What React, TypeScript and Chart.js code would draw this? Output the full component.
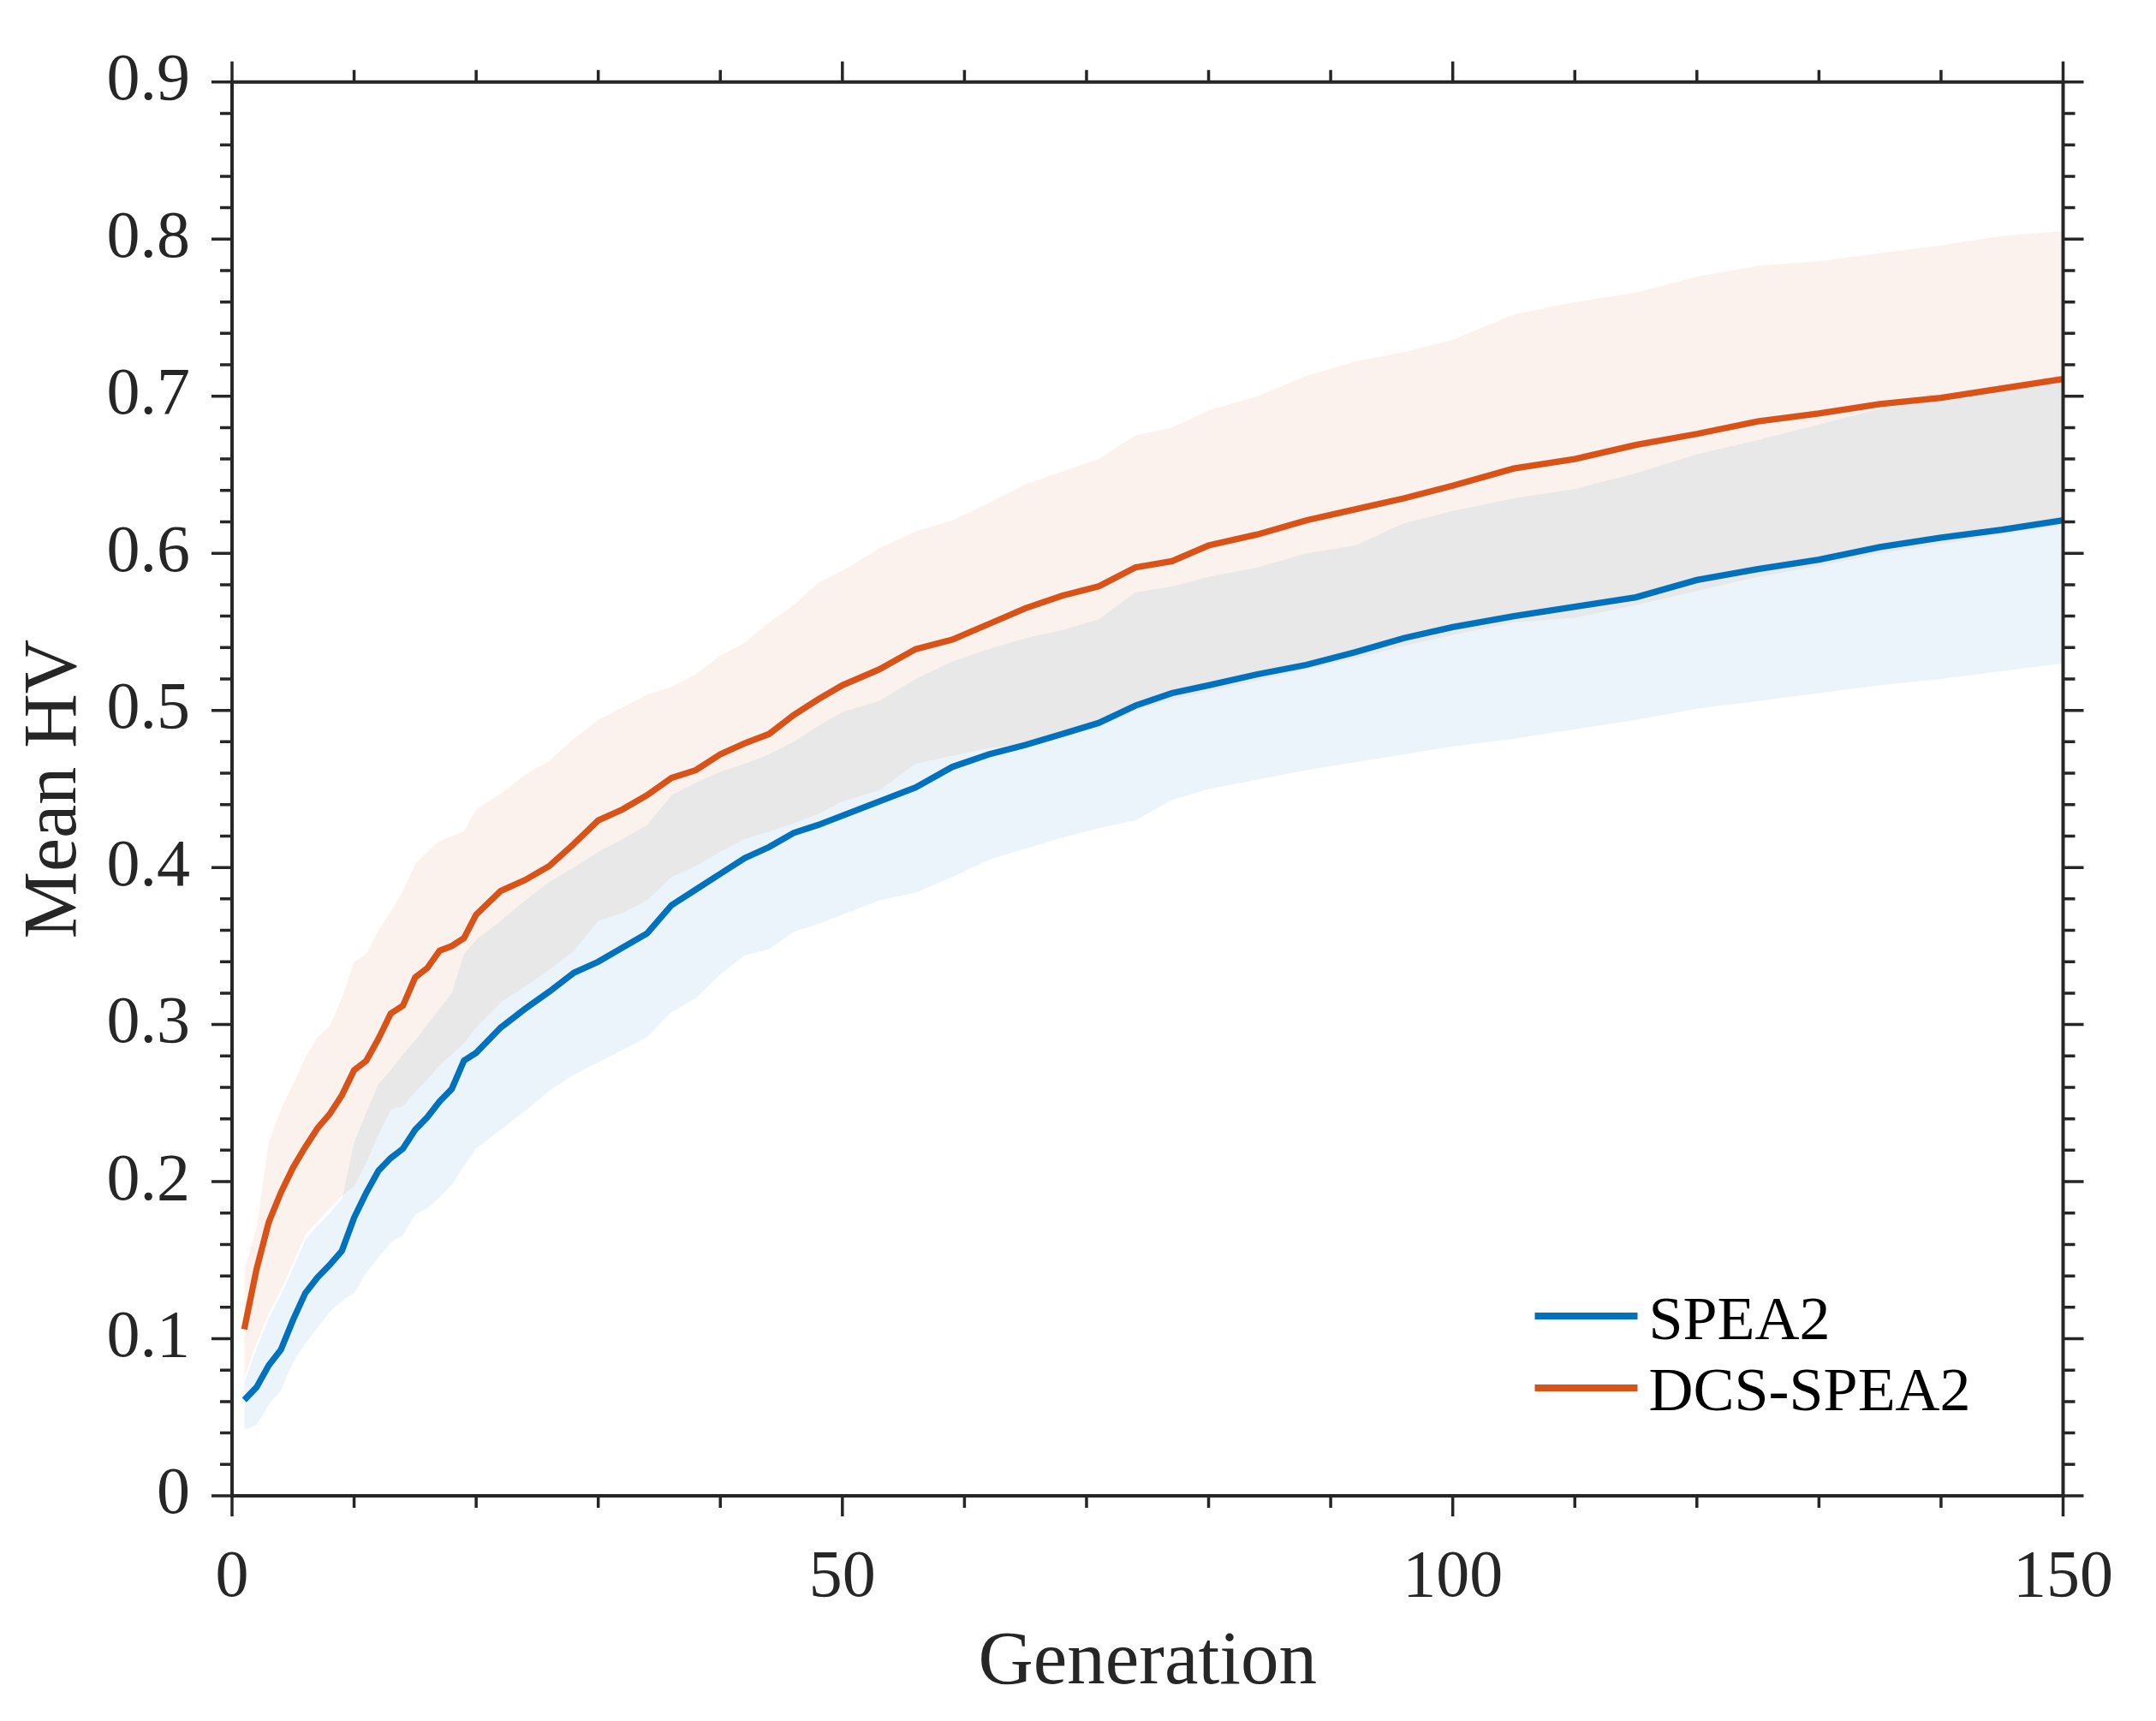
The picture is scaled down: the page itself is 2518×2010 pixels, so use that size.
import React, { useEffect, useRef } from 'react';
import { Chart, registerables } from 'chart.js';

Chart.register(...registerables);

// Generation numbers at which values were read
const generations = [
  1, 2, 3, 4, 5, 6, 7, 8, 9, 10, 11, 12, 13, 14, 15, 16, 17, 18, 19, 20,
  22, 24, 26, 28, 30, 32, 34, 36, 38, 40, 42, 44, 46, 48, 50,
  53, 56, 59, 62, 65, 68, 71, 74, 77, 80, 84, 88, 92, 96, 100,
  105, 110, 115, 120, 125, 130, 135, 140, 145, 150,
];

// SPEA2 mean HV
const spea2Mean = [
  0.061, 0.069, 0.083, 0.093, 0.112, 0.129, 0.139, 0.147, 0.156, 0.177,
  0.193, 0.207, 0.215, 0.221, 0.233, 0.241, 0.251, 0.259, 0.277, 0.282,
  0.298, 0.310, 0.321, 0.333, 0.340, 0.349, 0.358, 0.376, 0.386, 0.396,
  0.406, 0.413, 0.422, 0.427, 0.433,
  0.442, 0.451, 0.464, 0.472, 0.478, 0.485, 0.492, 0.503, 0.511, 0.516,
  0.523, 0.529, 0.537, 0.546, 0.553,
  0.560, 0.566, 0.572, 0.583, 0.590, 0.596, 0.604, 0.610, 0.615, 0.621,
];

// SPEA2 band
const spea2Upper = [
  0.072, 0.094, 0.113, 0.128, 0.145, 0.163, 0.172, 0.180, 0.189, 0.225,
  0.244, 0.262, 0.271, 0.281, 0.290, 0.300, 0.310, 0.320, 0.345, 0.354,
  0.366, 0.379, 0.391, 0.400, 0.410, 0.418, 0.427, 0.446, 0.454, 0.461,
  0.466, 0.472, 0.480, 0.490, 0.499,
  0.506, 0.520, 0.531, 0.539, 0.546, 0.551, 0.558, 0.575, 0.579, 0.585,
  0.591, 0.600, 0.605, 0.619, 0.627,
  0.635, 0.641, 0.651, 0.663, 0.672, 0.682, 0.692, 0.698, 0.705, 0.709,
];
const spea2Lower = [
  0.042, 0.045, 0.058, 0.067, 0.085, 0.097, 0.107, 0.117, 0.124, 0.129,
  0.142, 0.152, 0.161, 0.166, 0.179, 0.183, 0.190, 0.198, 0.210, 0.221,
  0.233, 0.245, 0.258, 0.268, 0.276, 0.284, 0.292, 0.308, 0.317, 0.332,
  0.344, 0.348, 0.359, 0.364, 0.370,
  0.379, 0.384, 0.394, 0.405, 0.412, 0.419, 0.425, 0.430, 0.443, 0.450,
  0.456, 0.462, 0.467, 0.472, 0.477,
  0.482, 0.488, 0.494, 0.501, 0.506, 0.511, 0.516, 0.520, 0.525, 0.530,
];

// DCS-SPEA2 mean HV
const dcsMean = [
  0.106, 0.144, 0.174, 0.193, 0.209, 0.222, 0.234, 0.243, 0.255, 0.271,
  0.277, 0.291, 0.307, 0.312, 0.330, 0.336, 0.347, 0.350, 0.355, 0.370,
  0.385, 0.392, 0.401, 0.415, 0.430, 0.437, 0.446, 0.457, 0.462, 0.472,
  0.479, 0.485, 0.497, 0.507, 0.516,
  0.526, 0.539, 0.545, 0.555, 0.565, 0.573, 0.579, 0.591, 0.595, 0.605,
  0.612, 0.621, 0.628, 0.635, 0.643,
  0.654, 0.660, 0.669, 0.676, 0.684, 0.689, 0.695, 0.699, 0.705, 0.711,
];

// DCS-SPEA2 band
const dcsUpper = [
  0.144, 0.170, 0.225, 0.246, 0.262, 0.279, 0.292, 0.299, 0.317, 0.340,
  0.345, 0.360, 0.372, 0.385, 0.402, 0.410, 0.417, 0.420, 0.423, 0.437,
  0.447, 0.459, 0.468, 0.482, 0.494, 0.502, 0.510, 0.515, 0.523, 0.535,
  0.543, 0.556, 0.567, 0.581, 0.589,
  0.603, 0.614, 0.621, 0.632, 0.644, 0.652, 0.660, 0.675, 0.680, 0.691,
  0.700, 0.713, 0.722, 0.728, 0.736,
  0.752, 0.760, 0.766, 0.776, 0.783, 0.786, 0.791, 0.796, 0.802, 0.805,
];
const dcsLower = [
  0.075, 0.097, 0.116, 0.131, 0.148, 0.166, 0.175, 0.183, 0.191, 0.197,
  0.212, 0.230, 0.246, 0.248, 0.257, 0.265, 0.274, 0.281, 0.288, 0.298,
  0.314, 0.324, 0.335, 0.347, 0.366, 0.371, 0.379, 0.394, 0.401, 0.410,
  0.418, 0.423, 0.428, 0.434, 0.442,
  0.449, 0.466, 0.471, 0.476, 0.479, 0.483, 0.489, 0.500, 0.507, 0.512,
  0.519, 0.526, 0.533, 0.541, 0.548,
  0.556, 0.559, 0.567, 0.576, 0.585, 0.592, 0.600, 0.606, 0.612, 0.618,
];

const seriesNames = ['SPEA2', 'DCS-SPEA2'];
const xTicks = [0, 50, 100, 150];

const W = 2518;
const H = 2010;
const BLUE = '#0072BD';
const ORANGE = '#D95319';
const AXIS = '#262626';
const FONT = "'Liberation Serif', 'Times New Roman', serif";

export default function App() {
  const ref = useRef<HTMLCanvasElement | null>(null);

  useEffect(() => {
    document.body.style.margin = '0';
    document.body.style.overflow = 'hidden';
    const canvas = ref.current;
    if (!canvas) return;

    const pts = (arr: number[]) => generations.map((g, i) => ({ x: g, y: arr[i] }));

    const axesPlugin = {
      id: 'matlabAxes',
      afterDraw(chart: any) {
        const { ctx, chartArea: a, scales } = chart;
        const xs = scales.x;
        const ys = scales.y;
        ctx.save();
        ctx.strokeStyle = AXIS;
        ctx.lineCap = 'butt';
        ctx.lineWidth = 3.5;
        ctx.beginPath();
        for (let i = 0; i <= 45; i++) {
          const py = ys.getPixelForValue(i * 0.02);
          const L = i % 5 === 0 ? 24 : 14;
          ctx.moveTo(a.left, py);
          ctx.lineTo(a.left - L, py);
          ctx.moveTo(a.right, py);
          ctx.lineTo(a.right + L, py);
        }
        for (let g = 0; g <= 150; g += 10) {
          const px = xs.getPixelForValue(g);
          const L = g % 50 === 0 ? 24 : 14;
          ctx.moveTo(px, a.bottom);
          ctx.lineTo(px, a.bottom + L);
          ctx.moveTo(px, a.top);
          ctx.lineTo(px, a.top - L);
        }
        ctx.stroke();
        ctx.lineWidth = 4;
        ctx.strokeRect(a.left, a.top, a.right - a.left, a.bottom - a.top);

        // legend (inside, lower right)
        const colors = [BLUE, ORANGE];
        const lineY = [a.bottom - 210, a.bottom - 126];
        const baseY = [a.bottom - 183, a.bottom - 100];
        ctx.lineWidth = 8;
        ctx.font = `72px ${FONT}`;
        ctx.textBaseline = 'alphabetic';
        ctx.textAlign = 'left';
        for (let i = 0; i < 2; i++) {
          ctx.strokeStyle = colors[i];
          ctx.beginPath();
          ctx.moveTo(a.right - 617, lineY[i]);
          ctx.lineTo(a.right - 497, lineY[i]);
          ctx.stroke();
          ctx.fillStyle = '#000000';
          ctx.fillText(seriesNames[i], a.right - 484, baseY[i]);
        }
        ctx.restore();
      },
    };

    const chart = new Chart(canvas, {
      type: 'line',
      data: {
        datasets: [
          {
            label: seriesNames[0],
            data: pts(spea2Mean),
            borderColor: BLUE,
            borderWidth: 7.3,
            pointRadius: 0,
            tension: 0,
            fill: false,
          },
          {
            label: seriesNames[1],
            data: pts(dcsMean),
            borderColor: ORANGE,
            borderWidth: 7.3,
            pointRadius: 0,
            tension: 0,
            fill: false,
          },
          {
            label: 'SPEA2 upper',
            data: pts(spea2Upper),
            borderWidth: 0,
            borderColor: 'rgba(0,0,0,0)',
            pointRadius: 0,
            tension: 0,
            fill: '+1',
            backgroundColor: 'rgba(0,114,189,0.08)',
          },
          {
            label: 'SPEA2 lower',
            data: pts(spea2Lower),
            borderWidth: 0,
            borderColor: 'rgba(0,0,0,0)',
            pointRadius: 0,
            tension: 0,
            fill: false,
          },
          {
            label: 'DCS-SPEA2 upper',
            data: pts(dcsUpper),
            borderWidth: 0,
            borderColor: 'rgba(0,0,0,0)',
            pointRadius: 0,
            tension: 0,
            fill: '+1',
            backgroundColor: 'rgba(217,83,25,0.08)',
          },
          {
            label: 'DCS-SPEA2 lower',
            data: pts(dcsLower),
            borderWidth: 0,
            borderColor: 'rgba(0,0,0,0)',
            pointRadius: 0,
            tension: 0,
            fill: false,
          },
        ],
      },
      options: {
        responsive: false,
        animation: false,
        events: [],
        layout: { padding: { left: 0, top: 87, right: 89, bottom: 0 } },
        plugins: {
          legend: { display: false },
          tooltip: { enabled: false },
          title: { display: false },
        },
        scales: {
          x: {
            type: 'linear',
            min: 0,
            max: 150,
            grid: { display: false, drawTicks: false },
            border: { display: false },
            afterBuildTicks: (scale: any) => {
              scale.ticks = xTicks.map((v) => ({ value: v }));
            },
            afterFit: (scale: any) => {
              scale.height = 263;
            },
            ticks: {
              autoSkip: false,
              maxRotation: 0,
              padding: 50,
              color: AXIS,
              font: { family: FONT, size: 78 },
              callback: (v: any) => String(v),
            },
            title: {
              display: true,
              text: 'Generation',
              color: AXIS,
              font: { family: FONT, size: 89 },
              padding: { top: 0, bottom: 14 },
            },
          },
          y: {
            type: 'linear',
            min: 0,
            max: 0.9,
            grid: { display: false, drawTicks: false },
            border: { display: false },
            afterFit: (scale: any) => {
              scale.width = 271;
            },
            ticks: {
              stepSize: 0.1,
              padding: 49,
              color: AXIS,
              font: { family: FONT, size: 78 },
              callback: (v: any) => (Math.abs(v) < 1e-9 ? '0' : Number(v).toFixed(1)),
            },
            title: {
              display: true,
              text: 'Mean HV',
              color: AXIS,
              font: { family: FONT, size: 88 },
              padding: { top: 12, bottom: 0 },
            },
          },
        },
      },
      plugins: [axesPlugin],
    } as any);

    return () => {
      chart.destroy();
    };
  }, []);

  return (
    <div style={{ position: 'absolute', left: 0, top: 0, width: W, height: H, background: '#ffffff' }}>
      <canvas ref={ref} width={W} height={H} style={{ display: 'block', width: W, height: H }} />
    </div>
  );
}
